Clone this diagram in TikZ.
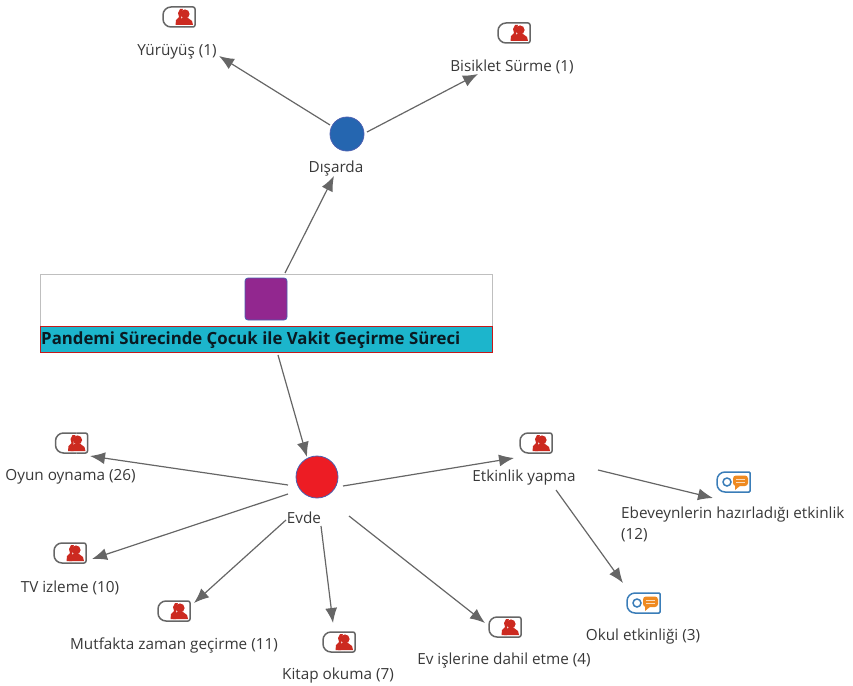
\documentclass[tikz,border=0pt]{standalone}
\usepackage{fontspec}
\setmainfont{Open Sans}
\usetikzlibrary{arrows.meta}
\definecolor{lbl}{HTML}{383838}
\definecolor{connc}{HTML}{666666}
\definecolor{pers}{HTML}{CC2A20}
\definecolor{codeb}{HTML}{3A7DB8}
\definecolor{codeo}{HTML}{EE8A22}
\definecolor{bandc}{HTML}{1CB5CC}
\definecolor{sqc}{HTML}{92278F}
\definecolor{disc}{HTML}{2566B0}
\definecolor{evc}{HTML}{ED1C24}
\definecolor{rimc}{HTML}{4A5FB0}
\definecolor{titc}{HTML}{0A1A22}
\tikzset{
  x=1pt,y=-1pt,
  lab/.style={font=\fontsize{15.3}{21}\selectfont,text=lbl,inner sep=0pt,align=left},
  conn/.style={draw=connc,line width=1.2pt,-{Latex[length=15pt,width=12pt]}},
  dot/.style={circle,inner sep=0pt,line width=.8pt,draw=rimc},
  persicon/.pic={
    \draw[draw=black!60,line width=1.5pt,fill=white,rounded corners=2pt] (5,-10) -- (16,-10) -- (16,10) -- (5,10);
    \draw[draw=black!60,line width=1.5pt,rounded corners=8pt] (5,-10) -- (-16,-10) -- (-16,10) -- (5,10);
    \fill[pers] (-3.5,8) -- (-3,3) -- (0,0) -- (-1,-4) -- (1,-8) -- (4,-8) -- (2,-3) -- (2,8) -- cycle;
    \fill[pers] (6,-3) circle (4.6);
    \fill[pers] (-1,8) -- (0,3) -- (3,1) -- (9,1) -- (13,4) -- (14,8) -- cycle;
  },
  codeicon/.pic={
    \draw[draw=codeb,line width=1.5pt,fill=white,rounded corners=1pt] (5,-10) -- (17,-10) -- (17,10) -- (5,10);
    \draw[draw=codeb,line width=1.5pt,rounded corners=8pt] (5,-10) -- (-16,-10) -- (-16,10) -- (5,10);
    \draw[draw=codeb,line width=1.5pt] (-6,0) circle (4);
    \fill[codeo,rounded corners=3pt] (0,-6.5) rectangle (15,4);
    \fill[codeo] (2,3) -- (8,3) -- (2,8) -- cycle;
    \draw[white!70!codeo,line width=.9pt] (3,-3) -- (12,-3) (3,0) -- (12,0);
  }
}
\begin{document}
\begin{tikzpicture}
\useasboundingbox (0,0) rectangle (853,685);
% central box
\node[draw=black!25,line width=.8pt,minimum width=452pt,minimum height=53pt,inner sep=0pt,anchor=north west] (top) at (40,274) {};
\node[draw=red!75!black!90,fill=bandc,line width=1pt,minimum width=452pt,minimum height=26pt,inner sep=0pt,anchor=north west] (band) at (40,326) {};
\node[font=\bfseries\fontsize{16.8}{20}\selectfont,text=titc,inner sep=0pt,anchor=west] (title) at (41,340.5) {Pandemi Sürecinde Çocuk ile Vakit Geçirme Süreci};
\node[draw=rimc,fill=sqc,rounded corners=3pt,line width=.8pt,minimum size=42pt,inner sep=0pt] (sq) at (266,299) {};
% circles
\node[dot,minimum size=34pt,fill=disc] (disarda) at (347,134) {};
\node[dot,minimum size=42pt,fill=evc] (evde) at (317,477) {};
% labels
\node[lab] (ldis) at (336,168.5) {Dışarda};
\node[lab] (levde) at (304,518) {Evde};
\node[lab] (lyur) at (177,52) {Yürüyüş (1)};
\node[lab] (lbis) at (512,66.5) {Bisiklet Sürme (1)};
\node[lab] (loyun) at (70.5,477) {Oyun oynama (26)};
\node[lab] (ltv) at (70,588) {TV izleme (10)};
\node[lab] (lmut) at (174,645) {Mutfakta zaman geçirme (11)};
\node[lab] (lkit) at (338,676) {Kitap okuma (7)};
\node[lab] (lev) at (504,661) {Ev işlerine dahil etme (4)};
\node[lab] (letk) at (524,478) {Etkinlik yapma};
\node[lab,anchor=north west] (leb) at (621,507) {Ebeveynlerin hazırladığı etkinlik\\(12)};
\node[lab] (lok) at (643,637) {Okul etkinliği (3)};
% icons
\pic at (179,17) {persicon};
\pic at (514,33) {persicon};
\pic at (71.5,443) {persicon};
\pic at (70,553) {persicon};
\pic at (174,611) {persicon};
\pic at (339,642) {persicon};
\pic at (505,627) {persicon};
\pic at (536,443) {persicon};
\pic at (733,482) {codeicon};
\pic at (643,603) {codeicon};
% connector ends
\coordinate (s1) at (285,273); \coordinate (t1) at (334,176);
\coordinate (s2) at (330,125); \coordinate (t2) at (219,56);
\coordinate (s3) at (367,132); \coordinate (t3) at (478,74);
\coordinate (s4) at (278,355); \coordinate (t4) at (307,457);
\coordinate (s5) at (288,485); \coordinate (t5) at (90,456);
\coordinate (s6) at (288,494); \coordinate (t6) at (92,559);
\coordinate (s7) at (286,520); \coordinate (t7) at (194,603);
\coordinate (s8) at (321,526); \coordinate (t8) at (333,623);
\coordinate (s9) at (349,516); \coordinate (t9) at (485,623);
\coordinate (s10) at (343,486); \coordinate (t10) at (514,458);
\coordinate (s11) at (598,470); \coordinate (t11) at (713,498);
\coordinate (s12) at (556,490); \coordinate (t12) at (623,583);
\foreach \i in {1,...,12} { \draw[conn] (s\i) -- (t\i); }
\end{tikzpicture}
\end{document}
